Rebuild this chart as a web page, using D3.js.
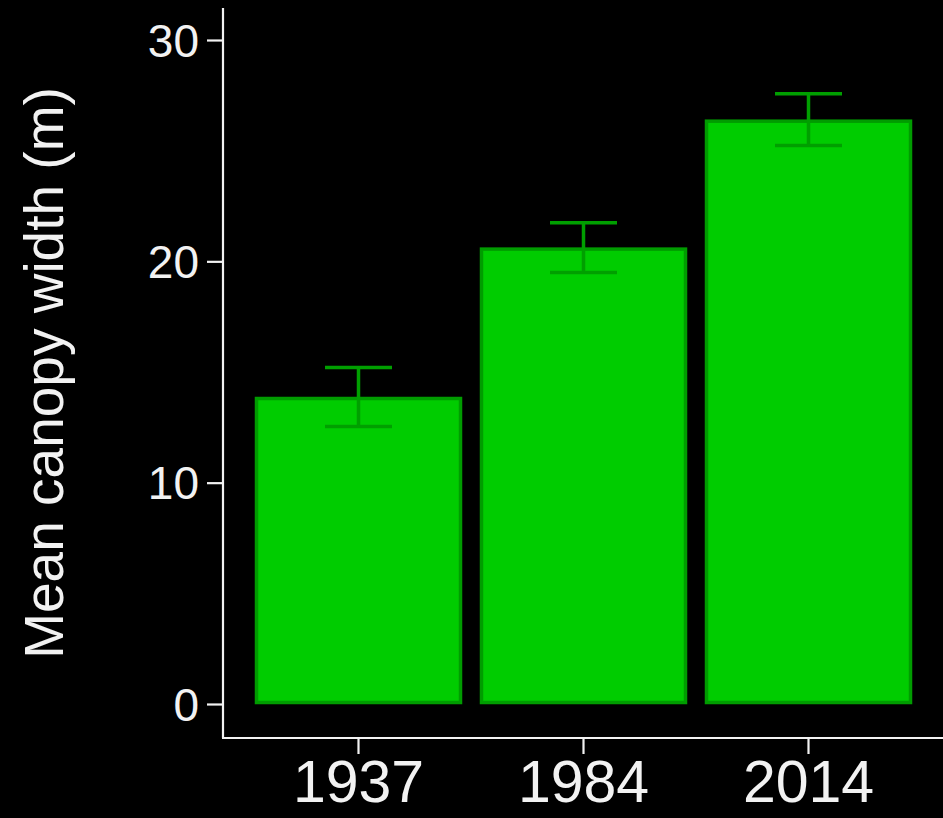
<!DOCTYPE html>
<html>
<head>
<meta charset="utf-8">
<script src="https://cdn.jsdelivr.net/npm/d3@7"></script>
<style>
  html, body { margin: 0; padding: 0; background: #000; }
  svg { display: block; }
</style>
</head>
<body>
<svg id="chart" width="943" height="818"></svg>
<script>
const categories = ["1937", "1984", "2014"];
const means = [13.87, 20.62, 26.4];
const errors = [1.33, 1.12, 1.17];
const yTicks = [0, 10, 20, 30];
const yTitle = "Mean canopy width (m)";

const svg = d3.select("#chart");
const W = 943, H = 818;
svg.append("rect").attr("width", W).attr("height", H).attr("fill", "#000");

const x = d3.scaleBand().domain(categories).range([246, 921])
  .paddingInner(0.08).paddingOuter(0.04);
const y = d3.scaleLinear().domain([0, 30]).range([704, 40]);

const fillC = "#00cc00", strokeC = "#009c00", errC = "#009f00";
const axisC = "#f2f2f2";

// bars
svg.append("g").selectAll("rect").data(categories).join("rect")
  .attr("x", d => x(d) + 1.5)
  .attr("y", (d, i) => y(means[i]) + 1.5)
  .attr("width", x.bandwidth() - 3)
  .attr("height", (d, i) => y(0) - y(means[i]) - 3)
  .attr("fill", fillC)
  .attr("stroke", strokeC)
  .attr("stroke-width", 3.5);

// error bars
const eg = svg.append("g").attr("stroke", errC).attr("stroke-width", 3.5).attr("fill", "none");
const capW = 67;
categories.forEach((c, i) => {
  const cx = x(c) + x.bandwidth() / 2;
  const yt = y(means[i] + errors[i]), yb = y(means[i] - errors[i]);
  eg.append("line").attr("x1", cx).attr("x2", cx).attr("y1", yt).attr("y2", yb);
  eg.append("line").attr("x1", cx - capW / 2).attr("x2", cx + capW / 2).attr("y1", yt).attr("y2", yt);
  eg.append("line").attr("x1", cx - capW / 2).attr("x2", cx + capW / 2).attr("y1", yb).attr("y2", yb);
});

// y axis
const yAxis = svg.append("g").attr("transform", "translate(223,0)")
  .call(d3.axisLeft(y).tickValues(yTicks).tickSize(16).tickPadding(8).tickFormat(d3.format("d")));
yAxis.select(".domain").remove();
yAxis.selectAll(".tick line").attr("stroke", axisC).attr("stroke-width", 2.2);
yAxis.selectAll(".tick text").attr("fill", axisC)
  .style("font-family", "'Liberation Sans', Arial, sans-serif").style("font-size", "46px")
  .attr("dy", "0.35em");
svg.append("line").attr("x1", 223).attr("x2", 223).attr("y1", 8).attr("y2", 738)
  .attr("stroke", axisC).attr("stroke-width", 2.2);

// x axis
const xAxis = svg.append("g").attr("transform", "translate(0,738)")
  .call(d3.axisBottom(x).tickSize(16).tickPadding(6));
xAxis.select(".domain").remove();
xAxis.selectAll(".tick line").attr("stroke", axisC).attr("stroke-width", 2.2);
xAxis.selectAll(".tick text").attr("fill", axisC)
  .style("font-family", "'Liberation Sans', Arial, sans-serif").style("font-size", "59px")
  .attr("dy", "0.71em");
svg.append("line").attr("x1", 222).attr("x2", 943).attr("y1", 738).attr("y2", 738)
  .attr("stroke", axisC).attr("stroke-width", 2.2);

// y title
svg.append("text")
  .attr("transform", "translate(63,373) rotate(-90)")
  .attr("text-anchor", "middle")
  .attr("fill", axisC)
  .style("font-family", "'Liberation Sans', Arial, sans-serif")
  .style("font-size", "55px")
  .text(yTitle);
</script>
</body>
</html>
